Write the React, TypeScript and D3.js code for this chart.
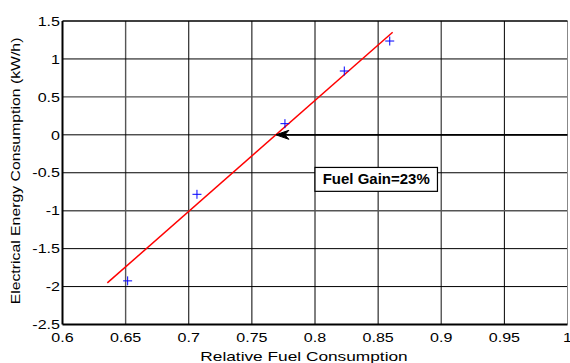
import React from "react";
import * as d3 from "d3";

const fuel = [0.6516, 0.7065, 0.7762, 0.8232, 0.8592];
const energy = [-1.925, -0.784, 0.147, 0.841, 1.236];
const fitX = [0.6355, 0.8615];
const fitY = [-1.952, 1.351];
const xTicks = [0.6, 0.65, 0.7, 0.75, 0.8, 0.85, 0.9, 0.95, 1];
const yTicks = [-2.5, -2, -1.5, -1, -0.5, 0, 0.5, 1, 1.5];
const arrowFromX = 1;
const arrowToX = 0.769;
const arrowY = 0;
const annotation = "Fuel Gain=23%";
const annoX = [0.8, 0.897];
const annoY = [-0.43, -0.745];

export default function App() {
  const W = 570, H = 363;
  const x = d3.scaleLinear().domain([0.6, 1]).range([62.5, 567.5]);
  const y = d3.scaleLinear().domain([-2.5, 1.5]).range([324.5, 21]);
  const font = "Arial, 'Liberation Sans', sans-serif";
  const line = d3.line<number>().x((d, i) => x(fitX[i])).y((d, i) => y(fitY[i]));
  const tipX = x(arrowToX), ay = y(arrowY);
  const arrowHead = `M${tipX},${ay} L${tipX + 13},${ay - 4.5} L${tipX + 9},${ay} L${tipX + 13},${ay + 4.5} Z`;
  const gray = (v: number) => Math.abs(v - 0.65) < 1e-6 || Math.abs(v - 0.9) < 1e-6;
  const grayY = (v: number) => Math.abs(v - 0.5) < 1e-6 || Math.abs(v + 1) < 1e-6;
  const sx = 1.19;
  return (
    <svg width={W} height={H} style={{ position: "absolute", left: 0, top: 0, background: "#fff" }}>
      {xTicks.slice(1, -1).map((t) => (
        <line key={"gx" + t} x1={x(t)} x2={x(t)} y1={y(1.5)} y2={y(-2.5)} stroke={gray(t) ? "#555" : "#000"} strokeWidth={gray(t) ? 1.4 : 1} />
      ))}
      {yTicks.slice(1, -1).map((t) => (
        <line key={"gy" + t} x1={x(0.6)} x2={x(1)} y1={y(t)} y2={y(t)} stroke={grayY(t) ? "#555" : "#000"} strokeWidth={grayY(t) ? 1.4 : 1} />
      ))}
      <line x1={x(1)} x2={x(1)} y1={y(1.5)} y2={y(-2.5)} stroke="#888" strokeWidth={1} />
      <line x1={x(0.6)} x2={x(1)} y1={y(1.5)} y2={y(1.5)} stroke="#000" strokeWidth={1.6} />
      <line x1={x(0.6)} x2={x(1)} y1={y(-2.5)} y2={y(-2.5)} stroke="#000" strokeWidth={2} />
      <line x1={x(0.6)} x2={x(0.6)} y1={y(1.5)} y2={y(-2.5)} stroke="#000" strokeWidth={2} />
      {yTicks.map((t) => (
        <text key={"ty" + t} transform={`translate(60,${y(t)}) scale(${sx},1)`} dy="0.35em" textAnchor="end" fontFamily={font} fontSize={13.5} fill="#000">{t}</text>
      ))}
      {xTicks.map((t) => (
        <text key={"tx" + t} transform={`translate(${x(t)},342.3) scale(${sx},1)`} textAnchor="middle" fontFamily={font} fontSize={13.5} fill="#000">{t}</text>
      ))}
      <text transform={`translate(304,361) scale(1.28,1)`} textAnchor="middle" fontFamily={font} fontSize={13.5} fill="#000">Relative Fuel Consumption</text>
      <text transform={`translate(20,171) rotate(-90) scale(1.17,1)`} textAnchor="middle" fontFamily={font} fontSize={13.5} fill="#000">Electrical Energy Consumption (kW/h)</text>
      <path d={line(fitX) || ""} fill="none" stroke="#f00" strokeWidth={1.5} />
      {fuel.map((f, i) => (
        <g key={"p" + i} stroke="#00f" strokeWidth={1}>
          <line x1={x(f) - 4.5} x2={x(f) + 4.5} y1={y(energy[i])} y2={y(energy[i])} />
          <line x1={x(f)} x2={x(f)} y1={y(energy[i]) - 4.5} y2={y(energy[i]) + 4.5} />
        </g>
      ))}
      <line x1={x(arrowFromX)} x2={tipX + 9} y1={ay} y2={ay} stroke="#000" strokeWidth={1.8} />
      <path d={arrowHead} fill="#000" stroke="#000" strokeWidth={1} />
      <rect x={x(annoX[0])} y={y(annoY[0])} width={x(annoX[1]) - x(annoX[0])} height={y(annoY[1]) - y(annoY[0])} fill="#fff" stroke="#000" strokeWidth={1.2} />
      <text x={(x(annoX[0]) + x(annoX[1])) / 2} y={(y(annoY[0]) + y(annoY[1])) / 2} dy="0.36em" textAnchor="middle" textLength={107} lengthAdjust="spacingAndGlyphs" fontFamily={font} fontSize={14} fontWeight="bold" fill="#000">{annotation}</text>
    </svg>
  );
}
